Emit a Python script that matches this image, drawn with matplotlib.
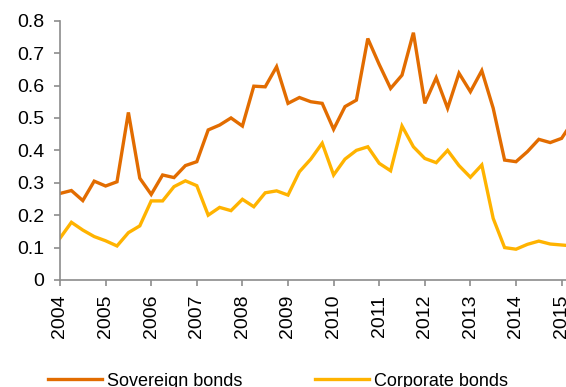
import matplotlib
matplotlib.use("Agg")
import matplotlib.pyplot as plt
import numpy as np

plt.rcParams['font.family'] = ['Liberation Sans', 'DejaVu Sans']

years = list(range(2004, 2016))
year_labels = [str(y) for y in years]

sovereign = [0.267, 0.276, 0.245, 0.305, 0.29, 0.303, 0.517, 0.314, 0.264, 0.324, 0.316, 0.353,
             0.365, 0.463, 0.478, 0.50, 0.475, 0.598, 0.596, 0.658, 0.545, 0.563, 0.55, 0.545,
             0.465, 0.535, 0.555, 0.745, 0.665, 0.591, 0.632, 0.763, 0.545, 0.624, 0.53, 0.638,
             0.581, 0.646, 0.53, 0.37, 0.365, 0.396, 0.434, 0.424, 0.437, 0.49]
corporate = [0.129, 0.178, 0.154, 0.134, 0.121, 0.105, 0.146, 0.167, 0.244, 0.244, 0.288, 0.306,
             0.291, 0.20, 0.224, 0.214, 0.249, 0.226, 0.269, 0.275, 0.262, 0.334, 0.373, 0.422,
             0.324, 0.373, 0.40, 0.411, 0.36, 0.337, 0.475, 0.411, 0.375, 0.362, 0.40, 0.353,
             0.317, 0.355, 0.19, 0.10, 0.095, 0.11, 0.12, 0.111, 0.108, 0.105]

x = 2004 + np.arange(len(sovereign)) / 4.0

fig = plt.figure(figsize=(5.66, 3.87), dpi=100)
ax = fig.add_axes([60/566, 107/387, 506/566, (280-20.7)/387])

l1, = ax.plot(x, sovereign, color='#E26C00', lw=2.4, label='Sovereign bonds', solid_joinstyle='miter')
l2, = ax.plot(x, corporate, color='#FFB300', lw=2.4, label='Corporate bonds', solid_joinstyle='miter')

ax.set_ylim(0, 0.8)
ax.set_xlim(2004, 2004 + 506/45.6)
ax.set_yticks(np.arange(0, 0.81, 0.1))
ax.set_yticklabels(['0'] + ['%.1f' % v for v in np.arange(0.1, 0.81, 0.1)])
ax.set_xticks(years)
ax.set_xticklabels(year_labels, rotation=90)

for s in ['top', 'right']:
    ax.spines[s].set_visible(False)
for s in ['left', 'bottom']:
    ax.spines[s].set_color('#8C8C8C')
    ax.spines[s].set_linewidth(1.2)
ax.tick_params(axis='both', colors='#8C8C8C', length=4.5, width=1.2, labelsize=14, labelcolor='black')
ax.tick_params(axis='y', pad=7)
ax.tick_params(axis='x', pad=6)

fig.legend(handles=[l1, l2], loc='center', bbox_to_anchor=(278/566, 1 - 381/387),
           ncol=2, frameon=False, fontsize=13, handlelength=3.0, handletextpad=0.3,
           columnspacing=4.0)

fig.savefig('out.png', dpi=100)
